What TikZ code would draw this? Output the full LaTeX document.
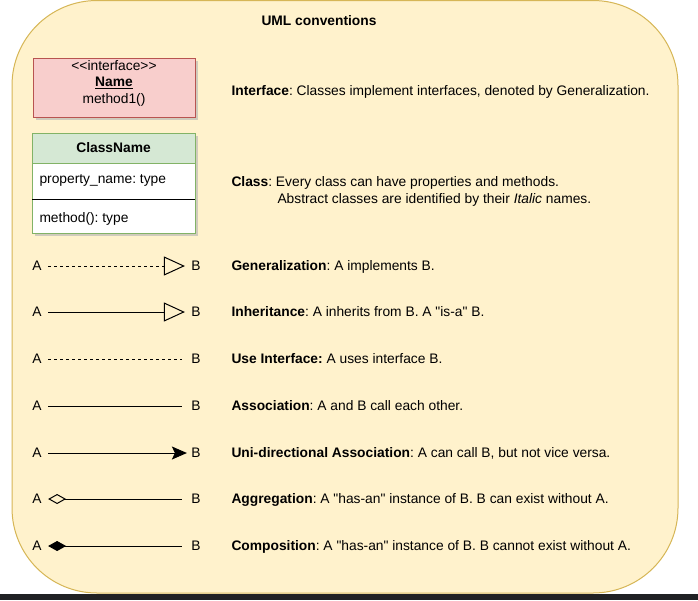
\documentclass[tikz,border=0pt]{standalone}
\usepackage{fontspec}
\setmainfont{Liberation Sans}[Ligatures=TeXOff]
\usetikzlibrary{arrows.meta,positioning,shadows}
\definecolor{notefill}{HTML}{FFF2CC}
\definecolor{notedraw}{HTML}{D6B656}
\definecolor{ifacefill}{HTML}{F8CECC}
\definecolor{ifacedraw}{HTML}{B85450}
\definecolor{classfill}{HTML}{D5E8D4}
\definecolor{classdraw}{HTML}{82B366}
\definecolor{barcol}{HTML}{202124}
\frenchspacing

\begin{document}
\begin{tikzpicture}[x=1pt,y=-1pt,line width=1pt,font=\fontsize{13.8}{16}\selectfont,
    txt/.style={inner sep=0pt,text height=9.9pt,text depth=0pt},
    desc/.style={txt,anchor=west},
    umlbox/.style={draw,minimum width=163pt,inner sep=0pt,
        drop shadow={shadow xshift=3pt,shadow yshift=-3pt,fill=black!30,opacity=.6}},
    gen/.style={-{Triangle[open,length=21pt,width=19pt]},shorten <=6pt,shorten >=6pt},
    dashline/.style={dash pattern=on 3pt off 3pt},
    plain/.style={shorten <=6pt,shorten >=9pt}]
    \useasboundingbox (0,0) rectangle (698,600);
    \fill[barcol] (0,594) rectangle (698,600);
    \draw[notedraw,fill=notefill,rounded corners=85pt] (12,0.5) rectangle (678,593);

    \node[txt,font=\fontsize{13.8}{16}\selectfont\bfseries] (title) at (319,21) {UML conventions};

    % interface box
    \node[umlbox,ifacedraw,fill=ifacefill,minimum width=162pt,minimum height=59pt] (iface) at (114,87.5) {};
    \node[txt] (istereo) at (114,66) {<\kern0pt<interface>\kern0pt>};
    \node[txt] (iname)   at (114,82) {\textbf{\underline{Name}}};
    \node[txt] (imethod) at (114,99) {method1()};
    \node[desc] (ifacedesc) at (231,91) {\textbf{Interface}: Classes implement interfaces, denoted by Generalization.};

    % class box
    \node[umlbox,classdraw,fill=white,minimum height=100pt] (cls) at (113.5,183) {};
    \node[draw=classdraw,fill=classfill,minimum width=163pt,minimum height=30pt,inner sep=0pt,anchor=north]
        (clshead) at (cls.north) {};
    \draw (32,199) -- (195,199);
    \node[txt,font=\fontsize{13.8}{16}\selectfont\bfseries] (clsname) at (clshead) {ClassName};
    \node[desc] (clsprop) at (39,179) {property\_name: type};
    \node[desc] (clsmeth) at (39,218) {method(): type};
    \node[desc] (clsdesc)  at (231,182) {\textbf{Class}: Every class can have properties and methods.};
    \node[desc] (clsdesc2) at (277,199) {Abstract classes are identified by their \textit{Italic} names.};

    % relations
    \node[txt] (ga) at (37,266) {A};
    \node[txt] (gb) at (196,266) {B};
    \draw[gen,dashline] (ga) -- (gb);
    \node[desc] (gdesc) at (231,266) {\textbf{Generalization}: A implements B.};

    \node[txt] (ia) at (37,312) {A};
    \node[txt] (ib) at (196,312) {B};
    \draw[gen] (ia) -- (ib);
    \node[desc] (idesc) at (231,312) {\textbf{Inheritance}: A inherits from B. A "is-a" B.};

    \node[txt] (ua) at (37,359) {A};
    \node[txt] (ub) at (196,359) {B};
    \draw[plain,dashline] (ua) -- (ub);
    \node[desc] (udesc) at (231,359) {\textbf{Use Interface:} A uses interface B.};

    \node[txt] (aa) at (37,406) {A};
    \node[txt] (ab) at (196,406) {B};
    \draw[plain] (aa) -- (ab);
    \node[desc] (adesc) at (231,406) {\textbf{Association}: A and B call each other.};

    \node[txt] (da) at (37,453) {A};
    \node[txt] (db) at (196,453) {B};
    \draw[-{Stealth[length=15pt,width=13pt,inset=3pt]},shorten <=6pt,shorten >=4pt] (da) -- (db);
    \node[desc] (ddesc) at (231,453) {\textbf{Uni-directional Association}: A can call B, but not vice versa.};

    \node[txt] (ga2) at (37,499) {A};
    \node[txt] (gb2) at (196,499) {B};
    \draw[{Diamond[open,length=18pt,width=10pt]}-,plain] (ga2) -- (gb2);
    \node[desc] (g2desc) at (231,499) {\textbf{Aggregation}: A "has-an" instance of B. B can exist without A.};

    \node[txt] (ca) at (37,546) {A};
    \node[txt] (cb) at (196,546) {B};
    \draw[{Diamond[length=18pt,width=10pt]}-,plain] (ca) -- (cb);
    \node[desc] (cdesc) at (231,546) {\textbf{Composition}: A "has-an" instance of B. B cannot exist without A.};
\end{tikzpicture}
\end{document}
